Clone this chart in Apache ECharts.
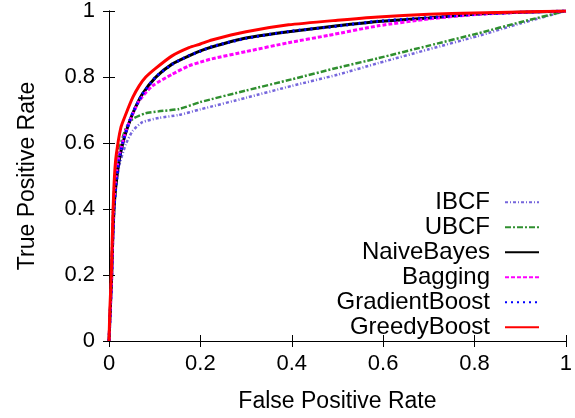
<!DOCTYPE html>
<html>
<head>
<meta charset="utf-8">
<script src="https://cdn.jsdelivr.net/npm/echarts@6/dist/echarts.min.js"></script>
<style>
  html, body { margin: 0; padding: 0; background: #fff; }
  #main { width: 575px; height: 418px; }
</style>
</head>
<body>
<div id="main"></div>
<script>
// ROC curves, values
const ibcfFpr = [0, 0.003, 0.006, 0.008, 0.011, 0.016, 0.024, 0.037, 0.052, 0.073, 0.109, 0.153, 0.2, 0.3, 0.4, 0.5, 0.589, 0.7, 0.807, 0.9, 1];
const ibcfTpr = [0, 0.1, 0.2, 0.3, 0.4, 0.48, 0.54, 0.597, 0.637, 0.663, 0.676, 0.685, 0.702, 0.737, 0.773, 0.807, 0.842, 0.884, 0.924, 0.962, 1];

const ubcfFpr = [0, 0.003, 0.005, 0.007, 0.009, 0.013, 0.02, 0.037, 0.052, 0.08, 0.109, 0.153, 0.2, 0.3, 0.4, 0.5, 0.589, 0.7, 0.807, 0.9, 1];
const ubcfTpr = [0, 0.1, 0.2, 0.3, 0.4, 0.5, 0.57, 0.645, 0.673, 0.69, 0.696, 0.703, 0.724, 0.759, 0.793, 0.828, 0.857, 0.895, 0.932, 0.966, 1];

const nbFpr = [0, 0.003, 0.006, 0.008, 0.011, 0.015, 0.022, 0.03, 0.04, 0.052, 0.073, 0.102, 0.138, 0.175, 0.2, 0.225, 0.3, 0.393, 0.5, 0.589, 0.7, 0.8, 0.9, 1];
const nbTpr = [0, 0.1, 0.2, 0.3, 0.4, 0.47, 0.545, 0.598, 0.645, 0.69, 0.748, 0.799, 0.839, 0.864, 0.879, 0.891, 0.918, 0.937, 0.955, 0.968, 0.979, 0.99, 0.996, 1];

const bagFpr = [0, 0.003, 0.006, 0.008, 0.01, 0.014, 0.022, 0.037, 0.052, 0.066, 0.095, 0.138, 0.175, 0.2, 0.225, 0.3, 0.393, 0.48, 0.589, 0.7, 0.807, 0.9, 1];
const bagTpr = [0, 0.1, 0.2, 0.3, 0.4, 0.48, 0.56, 0.637, 0.688, 0.728, 0.773, 0.808, 0.834, 0.845, 0.855, 0.877, 0.904, 0.926, 0.955, 0.976, 0.99, 0.996, 1];

const gbFpr = [0, 0.003, 0.006, 0.008, 0.011, 0.015, 0.022, 0.03, 0.04, 0.052, 0.073, 0.102, 0.138, 0.175, 0.2, 0.225, 0.3, 0.393, 0.5, 0.589, 0.7, 0.8, 0.9, 1];
const gbTpr = [0, 0.1, 0.2, 0.3, 0.4, 0.468, 0.547, 0.6, 0.646, 0.691, 0.747, 0.8, 0.838, 0.865, 0.878, 0.892, 0.917, 0.938, 0.954, 0.969, 0.98, 0.99, 0.996, 1];

const greedyFpr = [0, 0.002, 0.005, 0.007, 0.009, 0.012, 0.016, 0.026, 0.037, 0.052, 0.066, 0.08, 0.102, 0.138, 0.175, 0.2, 0.225, 0.3, 0.393, 0.5, 0.589, 0.7, 0.8, 0.9, 1];
const greedyTpr = [0, 0.1, 0.2, 0.3, 0.4, 0.5, 0.565, 0.647, 0.688, 0.738, 0.773, 0.799, 0.826, 0.864, 0.889, 0.9, 0.912, 0.937, 0.958, 0.972, 0.982, 0.99, 0.994, 0.997, 1];

const zip = (xs, ys) => xs.map((x, i) => [x, ys[i]]);

const font = 'Liberation Sans, Arial, sans-serif';

const mkLine = (name, xs, ys, color, width, dash) => ({
  name: name,
  type: 'line',
  data: zip(xs, ys),
  xAxisIndex: 0,
  yAxisIndex: 0,
  showSymbol: false,
  symbol: 'none',
  smooth: 0.2,
  lineStyle: { color: color, width: width, type: dash },
  itemStyle: { color: color },
  emphasis: { disabled: true }
});

const axisCommon = {
  type: 'value',
  min: 0,
  max: 1,
  interval: 0.2,
  splitLine: { show: false },
  axisLine: { lineStyle: { color: '#000', width: 1 } },
  axisTick: { inside: true, length: 6, lineStyle: { color: '#000' } }
};

var myChart = echarts.init(document.getElementById('main'));
var option = {
  animation: false,
  grid: { left: 109, right: 6, top: 10, bottom: 77 },
  xAxis: [
    Object.assign({}, axisCommon, {
      position: 'bottom',
      name: 'False Positive Rate',
      nameLocation: 'middle',
      nameGap: 49,
      nameTextStyle: { fontSize: 23, color: '#000', fontFamily: font },
      axisLabel: { fontSize: 22, color: '#000', fontFamily: font, margin: 12 }
    }),
    Object.assign({}, axisCommon, {
      position: 'top',
      axisLabel: { show: false }
    })
  ],
  yAxis: [
    Object.assign({}, axisCommon, {
      position: 'left',
      name: 'True Positive Rate',
      nameLocation: 'middle',
      nameGap: 70,
      nameTextStyle: { fontSize: 23, color: '#000', fontFamily: font },
      axisLabel: { fontSize: 22, color: '#000', fontFamily: font, margin: 14 }
    }),
    Object.assign({}, axisCommon, {
      position: 'right',
      axisLabel: { show: false }
    })
  ],
  legend: {
    orient: 'vertical',
    right: 35,
    top: 190,
    align: 'right',
    itemWidth: 34,
    itemHeight: 14,
    itemGap: 0.5,
    padding: 0,
    itemStyle: { opacity: 0 },
    textStyle: { fontSize: 24, lineHeight: 24.5, color: '#000', fontFamily: font, padding: [0, 10, 0, 0] },
    data: ['IBCF', 'UBCF', 'NaiveBayes', 'Bagging', 'GradientBoost', 'GreedyBoost']
  },
  series: [
    mkLine('IBCF', ibcfFpr, ibcfTpr, '#7566dc', 2.5, [3, 2, 1, 2]),
    mkLine('UBCF', ubcfFpr, ubcfTpr, '#2f8f2f', 2.5, [6, 2, 2, 2]),
    mkLine('NaiveBayes', nbFpr, nbTpr, '#000000', 3, 'solid'),
    mkLine('Bagging', bagFpr, bagTpr, '#ff00ff', 3, [4, 2]),
    mkLine('GradientBoost', gbFpr, gbTpr, '#0000ff', 3, [2, 4]),
    mkLine('GreedyBoost', greedyFpr, greedyTpr, '#ff0000', 3, 'solid')
  ]
};
myChart.setOption(option);
</script>
</body>
</html>
